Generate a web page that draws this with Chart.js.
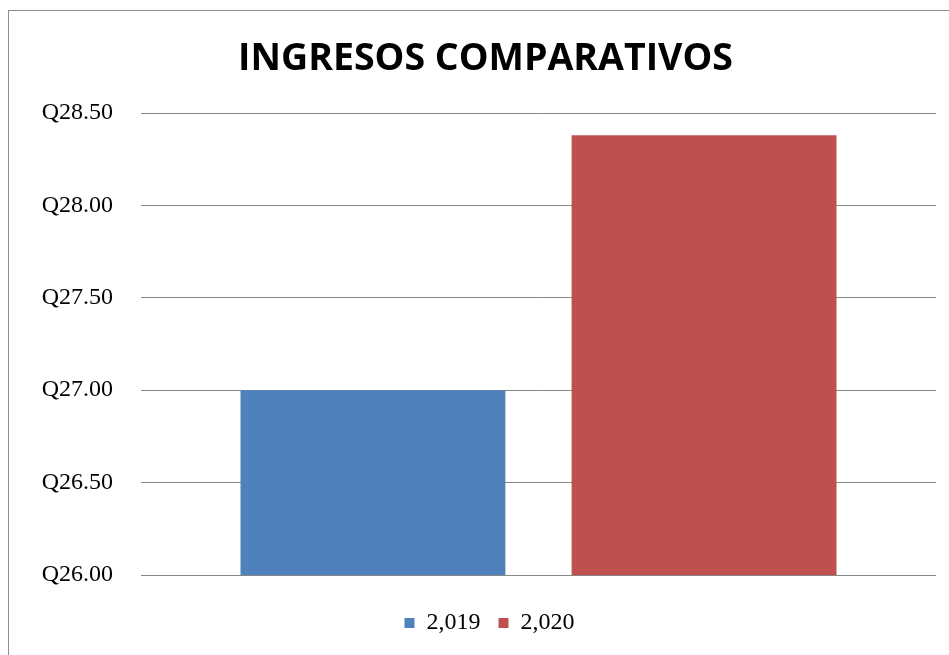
<!DOCTYPE html>
<html>
<head>
<meta charset="utf-8">
<script src="https://cdn.jsdelivr.net/npm/chart.js@4/dist/chart.umd.min.js"></script>
<style>
  html, body { margin: 0; padding: 0; background: #fff; overflow: hidden; }
  #frame {
    position: absolute; left: 8px; top: 10px;
    width: 960px; height: 700px;
    border: 1px solid #8c8c8c;
    box-sizing: border-box;
  }
  #wrap { position: absolute; left: 9px; top: 11px; width: 954px; height: 650px; }
</style>
</head>
<body>
<div id="frame"></div>
<div id="wrap"><canvas id="chart"></canvas></div>
<script>
// data
const categories = ["INGRESOS"];
const seriesNames = ["2,019", "2,020"];
const values2019 = [27.00];
const values2020 = [28.38];
const seriesColors = ["#4F81BD", "#C0504D"];

const titleFont = "'Open Sans', 'Noto Sans', sans-serif";
const labelFont = "'Liberation Serif', 'DejaVu Serif', serif";

// title and legend are centred on the whole chart box in the original, not on the plot
const nudgeBoxes = {
    id: "nudgeBoxes",
    afterLayout(chart) {
        const t = chart.titleBlock;
        if (t) { t.left += 9; t.right += 9; }
        const l = chart.legend;
        if (l) { l.left += 13; l.right += 13; }
    },
};

const ctx = document.getElementById("chart").getContext("2d");
new Chart(ctx, {
    type: "bar",
    data: {
        labels: categories,
        datasets: [
            {
                label: seriesNames[0],
                data: values2019,
                backgroundColor: seriesColors[0],
                barPercentage: 0.8,
                categoryPercentage: 0.833,
            },
            {
                label: seriesNames[1],
                data: values2020,
                backgroundColor: seriesColors[1],
                barPercentage: 0.8,
                categoryPercentage: 0.833,
            },
        ],
    },
    options: {
        responsive: true,
        maintainAspectRatio: false,
        animation: false,
        layout: { padding: { left: 8, right: 27, top: 0, bottom: 16 } },
        plugins: {
            title: {
                display: true,
                text: "INGRESOS COMPARATIVOS",
                color: "#000",
                font: { family: titleFont, size: 37.5, weight: "bold" },
                padding: { top: 26, bottom: 31 },
            },
            legend: {
                position: "bottom",
                labels: {
                    color: "#000",
                    font: { family: labelFont, size: 24 },
                    boxWidth: 10,
                    boxHeight: 10,
                    padding: 18,
                },
            },
            tooltip: { enabled: false },
        },
        scales: {
            x: {
                ticks: { display: false },
                grid: { display: false },
                border: { display: false },
                afterFit: (scale) => { scale.height = 18; },
            },
            y: {
                min: 26,
                max: 28.5,
                ticks: {
                    stepSize: 0.5,
                    color: "#000",
                    padding: 28,
                    font: { family: labelFont, size: 24 },
                    callback: (v) => "Q" + Number(v).toFixed(2),
                },
                grid: { color: "#868686", drawTicks: false, lineWidth: 1 },
                border: { display: false },
                afterFit: (scale) => { scale.width = 124; },
            },
        },
    },
    plugins: [nudgeBoxes],
});
</script>
</body>
</html>
